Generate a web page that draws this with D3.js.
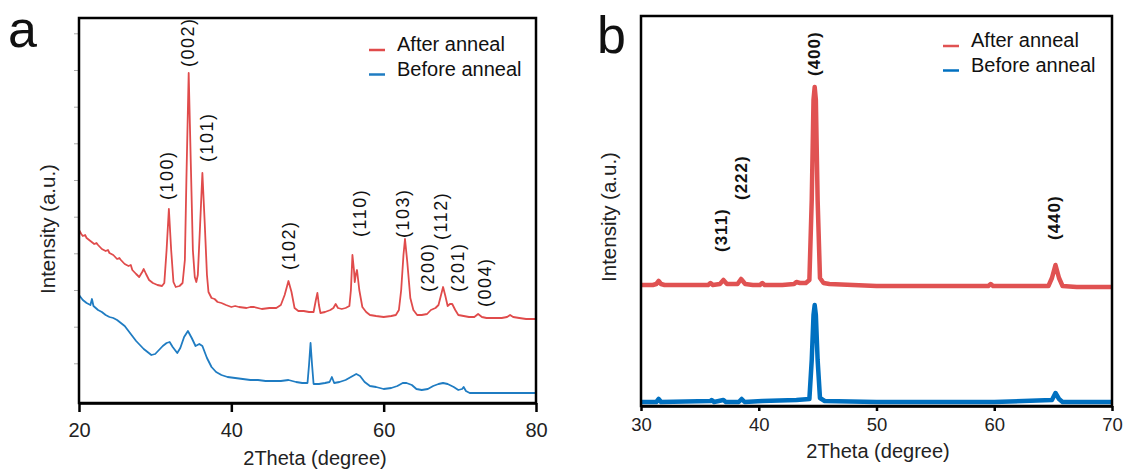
<!DOCTYPE html>
<html>
<head>
<meta charset="utf-8">
<script src="https://cdn.jsdelivr.net/npm/d3@7"></script>
<style>
  body { margin: 0; background: #fff; }
  svg { display: block; font-family: "Liberation Sans", Arial, sans-serif; }
</style>
</head>
<body>
<svg id="chart" width="1125" height="469"></svg>
<script>
/// data: [2theta, intensity (a.u.)]
var aAfter = [
  [20.0,173],[20.3,169],[20.5,167],[20.8,168],[21.0,165],[21.5,162],[22.0,159],[22.3,160],[22.5,158],
  [23.0,154],[23.5,152],[23.8,153],[24.0,150],[24.5,148],[25.0,144],[25.3,145],[25.5,143],[26.0,139],
  [26.5,137],[26.8,138],[27.0,133],[27.5,129],[27.9,126],[28.3,131],[28.5,134],[28.8,129],[29.2,123],
  [29.7,120],[30.3,118],[30.9,117],[31.2,120],[31.5,153],[31.8,194],[32.1,153],[32.4,121],[32.7,116],
  [33.2,117],[33.6,120],[33.9,143],[34.1,223],[34.4,330],[34.7,233],[34.95,153],[35.2,126],[35.4,121],
  [35.6,128],[35.9,178],[36.2,230],[36.5,181],[36.8,128],[37.0,111],[37.4,105],[37.8,104],[38.2,101],
  [38.7,100],[39.3,98],[40.0,96],[40.5,97],[41,96],[42,95],[42.5,96],[43,96],[44,94],[45,95],[45.9,95],
  [46.5,98],[47.0,108],[47.5,122],[47.9,111],[48.3,95],[48.8,92],[49.5,92],[50.2,91],[50.8,91],
  [51.1,103],[51.3,110],[51.5,98],[51.7,90],[52.3,91],[53.0,93],[53.4,95],[53.7,99],[54.0,95],
  [54.5,94],[55.0,95],[55.5,97],[55.7,113],[55.9,148],[56.1,133],[56.2,121],[56.35,129],[56.5,133],
  [56.8,113],[57.2,96],[57.7,91],[58.2,88],[59,87],[60,86],[61,87],[61.6,88],[62.0,93],[62.3,113],
  [62.6,148],[62.8,164],[63.1,141],[63.5,105],[63.9,93],[64.4,88],[65.0,88],[65.7,89],[66.2,93],
  [66.8,95],[67.2,98],[67.5,107],[67.8,116],[68.1,107],[68.4,97],[68.7,99],[69.0,99],[69.4,93],
  [69.8,88],[70.5,87],[71.2,86],[71.9,86],[72.4,89],[72.9,86],[73.5,85],[74.5,85],[75.5,85],
  [76.2,86],[76.6,88],[77.0,86],[77.8,85],[78.7,84],[79.6,84],[80.0,84]
];
var aBefore = [
  [20.0,108],[20.5,103],[21.0,100],[21.5,98],[21.7,104],[21.9,97],[22.5,93],[23.0,91],[23.5,88],
  [24.0,86],[24.5,85],[25.0,83],[25.5,80],[26.0,77],[26.5,72],[27.0,67],[27.5,62],[28.0,58],
  [28.5,54],[29.0,51],[29.5,48],[30.0,49],[30.5,53],[31.0,57],[31.5,60],[31.9,61],[32.3,56],
  [32.9,50],[33.3,55],[33.8,66],[34.3,72],[34.8,65],[35.3,57],[35.8,59],[36.2,57],[36.8,45],
  [37.4,36],[38.0,31],[38.7,28],[39.5,26],[40.5,25],[41.5,24],[42.5,23],[43.5,23],[44.5,22],
  [45.5,22],[46.5,22],[47.5,23],[48.5,21],[49.3,20],[50.0,20],[50.2,38],[50.4,60],[50.6,38],
  [50.8,19],[51.5,19],[52.3,20],[52.9,21],[53.2,26],[53.5,20],[54.2,21],[55.0,23],[55.7,26],
  [56.4,29],[56.9,27],[57.5,21],[58.2,17],[59,16],[60,14],[61,15],[61.8,17],[62.5,20],[63.0,20],
  [63.7,18],[64.3,14],[65.0,13],[65.8,14],[66.5,17],[67.2,19],[67.8,20],[68.4,19],[69.2,16],
  [69.8,13],[70.3,14],[70.5,16],[70.8,12],[71.3,10],[72.5,10],[74,10],[75.5,10],[77,10],[78.5,10],[80,10]
];
var bAfter = [
  [30.0,121],[31.0,121],[31.3,122],[31.5,125],[31.7,122],[32.0,121],[33.5,121],[35.0,121],[35.7,121],
  [35.9,123],[36.1,121],[36.7,122],[37.0,126],[37.3,122],[38.2,122],[38.5,127],[38.85,122],[39.5,121],
  [40.1,121],[40.3,123],[40.5,121],[42.0,121],[43.0,122],[43.2,124],[43.5,123],[44.0,123],[44.3,126],
  [44.5,206],[44.65,306],[44.75,319],[44.85,306],[45.0,206],[45.2,128],[45.5,123],[46.0,122],[48,121],
  [50,120],[52,120],[54,120],[56,120],[58,120],[59.5,120],[59.7,122],[59.9,120],[61,120],[63,120],
  [64.6,120],[64.9,128],[65.2,141],[65.5,128],[65.8,120],[67,119],[70,119]
];
var bBefore = [
  [30.0,4],[31.3,4],[31.5,7],[31.7,4],[35.9,5],[36.0,6],[36.2,4],[37.0,6],[37.2,4],[38.3,4],
  [38.55,7],[38.8,4],[40.3,5],[43.2,6],[44.3,7],[44.5,46],[44.65,91],[44.75,101],[44.85,91],
  [45.0,46],[45.2,8],[45.6,5],[50,4],[60,4],[64.9,6],[65.2,13],[65.5,7],[65.8,4],[70,4]
];

// peak labels: name, 2theta, intensity where the rotated label starts
var aPeaks = [
  ["(100)",31.6,203],["(002)",34.3,336],["(101)",36.75,241],["(102)",47.6,133],["(110)",56.9,166],
  ["(103)",62.6,165],["(200)",65.85,111],["(112)",67.5,163],["(201)",69.8,111],["(004)",73.3,96]
];
var bPeaks = [["(311)",36.85,154],["(222)",38.55,206],["(400)",44.7,330],["(440)",65.15,166]];

var aTicks = [20, 40, 60, 80];
var bTicks = [30, 40, 50, 60, 70];
var aMinorY = [39.7, 76.3, 113, 149.7, 186.3, 223, 259.7, 296.3, 333, 369.7];
var legendNames = ["After anneal", "Before anneal"];

var svg = d3.select("#chart");

function panel(opts) {
  var x = d3.scaleLinear().domain(opts.xDomain).range([opts.left, opts.right]);
  var y = d3.scaleLinear().domain(opts.yDomain).range([opts.bottom, opts.top]);
  var g = svg.append("g");

  if (opts.minorY) {
    var ax = g.append("g")
      .attr("transform", "translate(" + (opts.left - 1) + ",0)")
      .call(d3.axisLeft(y).tickValues(opts.minorY).tickSize(4).tickFormat(""));
    ax.select(".domain").remove();
    ax.selectAll("line").attr("stroke", "#aaa").attr("stroke-width", 1);
  }

  var line = d3.line().x(function(d) { return x(d[0]); }).y(function(d) { return y(d[1]); });
  opts.series.forEach(function(s) {
    g.append("path").datum(s.data)
      .attr("d", line)
      .attr("fill", "none")
      .attr("stroke", s.color)
      .attr("stroke-width", opts.lineWidth)
      .attr("stroke-linejoin", "round");
  });

  // frame
  g.append("rect")
    .attr("x", opts.left).attr("y", opts.top)
    .attr("width", opts.right - opts.left).attr("height", opts.bottom - opts.top)
    .attr("fill", "none").attr("stroke", "#000").attr("stroke-width", 2.5);

  var xa = g.append("g")
    .attr("transform", "translate(0," + opts.bottom + ")")
    .call(d3.axisBottom(x).tickValues(opts.ticks).tickSize(opts.tickSize).tickPadding(opts.tickPad).tickSizeOuter(0));
  xa.select(".domain").attr("stroke-width", 2.5);
  xa.selectAll("line").attr("stroke-width", 2.5);
  xa.selectAll("text").attr("font-size", opts.tickFont).attr("fill", "#222")
    .attr("font-family", "Liberation Sans, Arial, sans-serif");

  g.append("text")
    .attr("x", opts.titleX).attr("y", opts.titleY)
    .attr("text-anchor", "middle").attr("font-size", 20).attr("fill", "#222")
    .text("2Theta (degree)");

  g.append("text")
    .attr("transform", "translate(" + opts.ylabX + "," + opts.ylabY + ") rotate(-90)")
    .attr("text-anchor", "middle").attr("dominant-baseline", "central")
    .attr("font-size", 20.5).attr("fill", "#222")
    .text("Intensity (a.u.)");

  g.selectAll(".peak").data(opts.peaks).enter().append("text")
    .attr("transform", function(d) { return "translate(" + x(d[1]) + "," + y(d[2]) + ") rotate(-90)"; })
    .attr("dominant-baseline", "central")
    .attr("font-size", opts.peakFont)
    .attr("font-weight", opts.peakWeight)
    .attr("letter-spacing", opts.peakSpacing)
    .attr("fill", "#111")
    .text(function(d) { return d[0]; });

  // legend
  opts.series.forEach(function(s, i) {
    var ly = opts.legendY + i * 24.5;
    g.append("line")
      .attr("x1", opts.legendX).attr("x2", opts.legendX + 16)
      .attr("y1", ly - 1).attr("y2", ly - 1)
      .attr("stroke", s.color).attr("stroke-width", 2.5);
    g.append("text")
      .attr("x", opts.legendX + 28).attr("y", ly)
      .attr("font-size", 20).attr("fill", "#111")
      .text(legendNames[i]);
  });

  svg.append("text")
    .attr("x", opts.letterX).attr("y", opts.letterY)
    .attr("font-size", 52).attr("fill", "#111")
    .text(opts.letter);
}

panel({
  xDomain: [20, 80], yDomain: [0, 385],
  left: 79, right: 536, top: 18, bottom: 403,
  series: [{data: aAfter, color: "#e04b4b"}, {data: aBefore, color: "#1f7cc2"}],
  lineWidth: 1.8, ticks: aTicks, tickSize: 9, tickPad: 11, tickFont: 20,
  minorY: aMinorY,
  titleX: 315, titleY: 465, ylabX: 47, ylabY: 229,
  peaks: aPeaks, peakFont: 18, peakWeight: "normal", peakSpacing: 1.5,
  legendX: 369, legendY: 51, letter: "a", letterX: 8, letterY: 47
});

panel({
  xDomain: [30, 70], yDomain: [0, 390],
  left: 641, right: 1112, top: 16, bottom: 406,
  series: [{data: bAfter, color: "#e05252"}, {data: bBefore, color: "#0070c0"}],
  lineWidth: 4.5, ticks: bTicks, tickSize: 5, tickPad: 7, tickFont: 18.5,
  titleX: 878, titleY: 458, ylabX: 608, ylabY: 217,
  peaks: bPeaks, peakFont: 17, peakWeight: "bold", peakSpacing: 1,
  legendX: 943, legendY: 47, letter: "b", letterX: 597, letterY: 53
});
</script>
</body>
</html>
